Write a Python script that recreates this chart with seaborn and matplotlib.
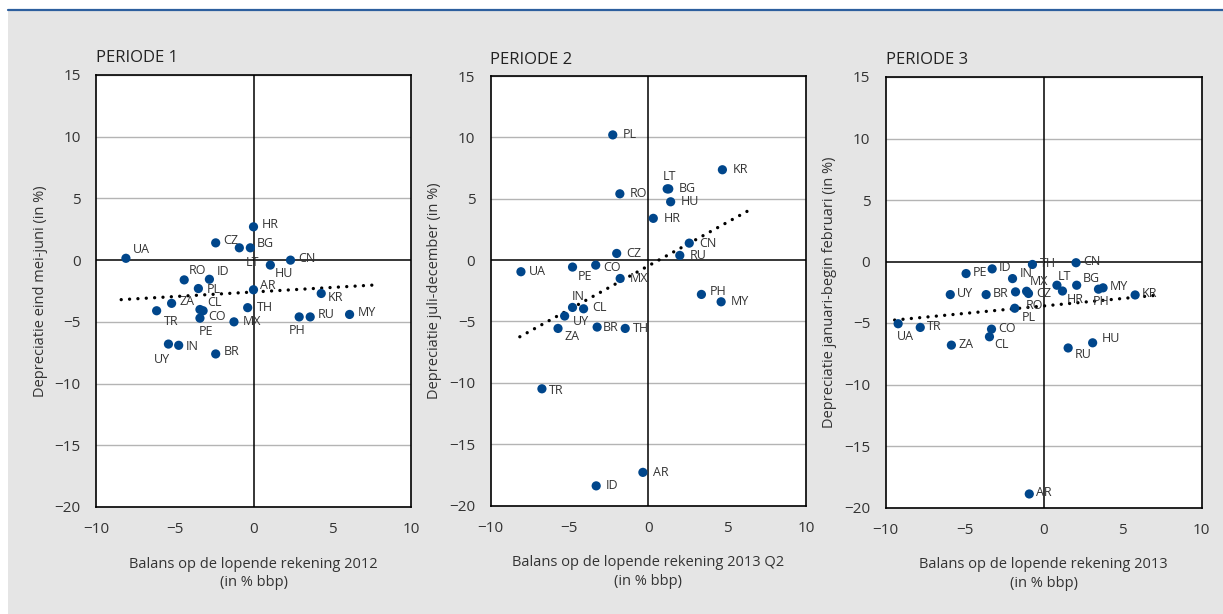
import numpy as np
import pandas as pd
import matplotlib.pyplot as plt
import seaborn as sns
from matplotlib.patches import Rectangle
from matplotlib.lines import Line2D

# ---------------------------------------------------------------------------
# Data
# ---------------------------------------------------------------------------
countries_p1 = ["HR", "CZ", "BG", "LT", "UA", "CN", "HU", "RO", "ID", "PL", "AR", "KR",
                "ZA", "TR", "CL", "PE", "CO", "TH", "MX", "PH", "RU", "MY", "UY", "IN", "BR"]
x_p1 = [0.0, -2.4, -0.9, -0.2, -8.1, 2.35, 1.07, -4.4, -2.8, -3.5, 0.0, 4.3,
        -5.2, -6.15, -3.4, -3.2, -3.4, -0.37, -1.24, 2.9, 3.6, 6.1, -5.4, -4.75, -2.4]
y_p1 = [2.7, 1.4, 1.0, 1.0, 0.15, 0.0, -0.4, -1.6, -1.55, -2.3, -2.4, -2.7,
        -3.5, -4.1, -4.0, -4.1, -4.7, -3.85, -5.0, -4.6, -4.6, -4.4, -6.8, -6.9, -7.6]
trend_x_p1 = [-8.4, 7.6]
trend_y_p1 = [-3.2, -2.02]

countries_p2 = ["PL", "KR", "LT", "BG", "RO", "HU", "HR", "CN", "RU", "CZ", "CO", "PE",
                "UA", "MX", "PH", "MY", "IN", "CL", "UY", "ZA", "BR", "TH", "TR", "ID", "AR"]
x_p2 = [-2.25, 4.7, 1.2, 1.3, -1.8, 1.42, 0.32, 2.6, 2.0, -2.0, -3.33, -4.8,
        -8.07, -1.78, 3.37, 4.62, -4.8, -4.1, -5.3, -5.72, -3.24, -1.46, -6.74, -3.3, -0.34]
y_p2 = [10.2, 7.36, 5.8, 5.8, 5.4, 4.75, 3.4, 1.38, 0.38, 0.54, -0.41, -0.57,
        -0.95, -1.5, -2.8, -3.4, -3.86, -3.97, -4.56, -5.57, -5.46, -5.57, -10.49, -18.4, -17.3]
trend_x_p2 = [-8.14, 6.35]
trend_y_p2 = [-6.25, 4.03]

countries_p3 = ["CN", "TH", "PE", "ID", "IN", "LT", "BG", "MX", "CZ", "RO", "HR", "PH",
                "MY", "KR", "UY", "BR", "PL", "UA", "TR", "CO", "CL", "ZA", "HU", "RU", "AR"]
x_p3 = [2.06, -0.7, -4.9, -3.25, -1.96, 0.85, 2.1, -1.77, -0.95, -1.07, 1.2, 3.48,
        3.77, 5.8, -5.9, -3.63, -1.82, -9.2, -7.8, -3.29, -3.42, -5.83, 3.11, 1.56, -0.9]
y_p3 = [-0.1, -0.24, -0.98, -0.6, -1.39, -1.93, -1.93, -2.47, -2.6, -2.42, -2.4, -2.25,
        -2.14, -2.72, -2.69, -2.69, -3.8, -5.06, -5.36, -5.5, -6.12, -6.8, -6.61, -7.03, -18.9]
trend_x_p3 = [-9.42, 6.95]
trend_y_p3 = [-4.76, -2.77]

titles = ["PERIODE 1", "PERIODE 2", "PERIODE 3"]
xlabels = ["Balans op de lopende rekening 2012\n(in % bbp)",
           "Balans op de lopende rekening 2013 Q2\n(in % bbp)",
           "Balans op de lopende rekening 2013\n(in % bbp)"]
ylabels = ["Depreciatie eind mei-juni (in %)",
           "Depreciatie juli-december (in %)",
           "Depreciatie januari-begin februari (in %)"]
x_ticks = [-10, -5, 0, 5, 10]
y_ticks = [-20, -15, -10, -5, 0, 5, 10, 15]

# label placement (pixel offsets from the dot), default per panel + overrides
label_default = [(8, 2), (10, 0), (7, 1)]
label_offsets = [
    {"BG": (17, 4), "LT": (-5, -15), "UA": (7, 9), "HU": (4, -8), "RO": (5, 9),
     "ID": (7, 8), "PL": (8, -1), "AR": (6, 4), "KR": (7, -4), "TR": (7, -11),
     "CL": (7, 7), "PE": (-4, -21), "TH": (9, 0), "MX": (9, 0), "PH": (-10, -14),
     "UY": (-15, -15), "IN": (7, -1)},
    {"LT": (-4, 12), "CO": (8, -2), "PE": (5, -9), "UA": (8, 0), "PH": (8, 3),
     "IN": (-1, 11), "CL": (9, 1), "UY": (8, -5), "ZA": (6, -8), "BR": (6, 0),
     "TH": (8, 0), "TR": (7, -2)},
    {"IN": (7, 5), "LT": (1, 9), "BG": (6, 7), "MX": (14, 10), "RO": (-1, -14),
     "HR": (4, -8), "PH": (-6, -12), "PL": (7, -9), "UA": (-1, -13), "CL": (5, -8),
     "HU": (9, 4), "RU": (7, -7), "CZ": (8, 0)},
]

panels = [
    (countries_p1, x_p1, y_p1, trend_x_p1, trend_y_p1),
    (countries_p2, x_p2, y_p2, trend_x_p2, trend_y_p2),
    (countries_p3, x_p3, y_p3, trend_x_p3, trend_y_p3),
]

# ---------------------------------------------------------------------------
# Styling
# ---------------------------------------------------------------------------
sns.set_theme(style="white")
plt.rcParams["font.family"] = ["Open Sans", "DejaVu Sans"]
plt.rcParams["axes.unicode_minus"] = True

DOT = "#00468b"
BG = "#e5e5e5"
TXT = "#333333"

fig = plt.figure(figsize=(12.23, 6.14), dpi=100)
fig.patches.append(Rectangle((8 / 1223, 0), 1 - 8 / 1223, 1 - 10 / 614,
                             transform=fig.transFigure, facecolor=BG,
                             edgecolor="none", zorder=-10))
fig.lines.append(Line2D([8 / 1223, 1], [1 - 10 / 614, 1 - 10 / 614],
                        transform=fig.transFigure, color="#2d5f9e", lw=1.6))

axes_rects = [
    [96 / 1223, 107 / 614, 315 / 1223, 432 / 614],
    [490.5 / 1223, 108.5 / 614, 315.5 / 1223, 429.5 / 614],
    [885.5 / 1223, 106.5 / 614, 316 / 1223, 430.5 / 614],
]

for i, (names, xs, ys, tx, ty) in enumerate(panels):
    ax = fig.add_axes(axes_rects[i])
    ax.set_facecolor("white")
    df = pd.DataFrame({"land": names, "x": xs, "y": ys})

    for yv in y_ticks:
        if yv != 0:
            ax.axhline(yv, color="#b4b4b4", lw=1.0, zorder=0)
    ax.axhline(0, color="black", lw=1.1, zorder=1)
    ax.axvline(0, color="black", lw=1.1, zorder=1)

    # dotted trend line: near-zero dashes with round caps give round dots
    sns.lineplot(x=tx, y=ty, ax=ax, color="black", lw=2.4,
                 linestyle=(0, (0.01, 2.5)), zorder=2)
    ax.lines[-1].set_dash_capstyle("round")
    sns.scatterplot(data=df, x="x", y="y", ax=ax, color=DOT, s=44,
                    edgecolor="none", zorder=3)

    for _, row in df.iterrows():
        off = label_offsets[i].get(row["land"], label_default[i])
        ax.annotate(row["land"], (row["x"], row["y"]), xytext=off,
                    textcoords="offset pixels", ha="left", va="center",
                    fontsize=9, color=TXT, zorder=4)

    ax.set_xlim(-10, 10)
    ax.set_ylim(-20, 15)
    ax.set_xticks(x_ticks)
    ax.set_yticks(y_ticks)
    ax.tick_params(axis="x", direction="in", length=7, width=1.2,
                   pad=11, labelsize=11, colors="black", labelcolor=TXT)
    ax.tick_params(axis="y", direction="out", length=7, width=1.2,
                   pad=4, labelsize=11, colors="black", labelcolor=TXT)
    for sp in ax.spines.values():
        sp.set_visible(True)
        sp.set_color("black")
        sp.set_linewidth(1.2)

    ax.set_xlabel(xlabels[i], fontsize=10.5, color=TXT, labelpad=14,
                  linespacing=1.3)
    ax.set_ylabel(ylabels[i], fontsize=10.5, color=TXT, labelpad=5)
    ax.set_title(titles[i], loc="left", fontsize=12, color="#222222", pad=9)

fig.savefig("out.png", dpi=100, facecolor="white")
